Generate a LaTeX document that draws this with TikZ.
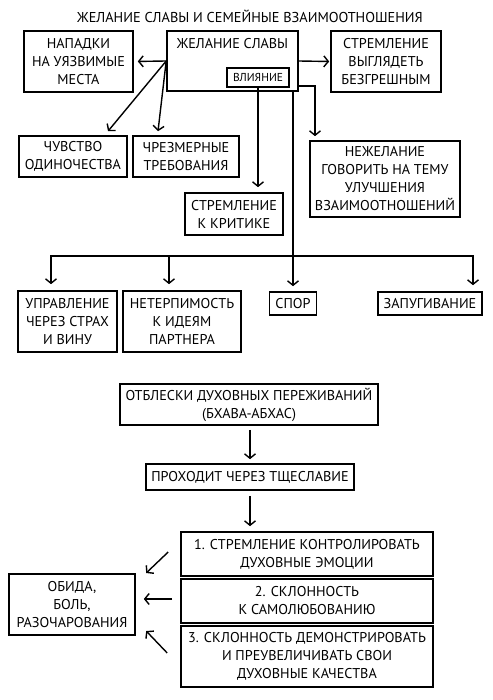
\documentclass[tikz,border=0pt]{standalone}
\usepackage{fontspec}
\setmainfont{PT Sans}
\usetikzlibrary{arrows.meta,calc}

\tikzset{
  box/.style={draw=black, line width=1.6pt, align=center, inner sep=0pt,
              font=\fontsize{14.2}{18}\selectfont},
  arr/.style={-{Straight Barb[length=4.5pt,width=11pt]}, line width=1.4pt}
}

\begin{document}
\begin{tikzpicture}[x=1pt,y=-1pt]
  \useasboundingbox (0,0) rectangle (492,700);

  %% title
  \node[font=\fontsize{14.3}{16}\selectfont] (title) at (250,16) {ЖЕЛАНИЕ СЛАВЫ И СЕМЕЙНЫЕ ВЗАИМООТНОШЕНИЯ};

  %% top row
  \node[box, minimum width=131, minimum height=60,
        label={[font=\fontsize{14.2}{16}\selectfont, anchor=north, yshift=-5pt]north:ЖЕЛАНИЕ СЛАВЫ}]
        (glory) at (232.5,61) {};
  \node[box, minimum width=62, minimum height=19, font=\fontsize{11.5}{12}\selectfont]
        (influence) at (258,77.5) {ВЛИЯНИЕ};
  \node[box, minimum width=109, minimum height=61] (attacks) at (78.5,61.5)
        {НАПАДКИ\\НА УЯЗВИМЫЕ\\МЕСТА};
  \node[box, minimum width=110, minimum height=61] (flawless) at (386,61.5)
        {СТРЕМЛЕНИЕ\\ВЫГЛЯДЕТЬ\\БЕЗГРЕШНЫМ};

  %% second row
  \node[box, minimum width=108, minimum height=41] (lonely) at (73,156.5)
        {ЧУВСТВО\\ОДИНОЧЕСТВА};
  \node[box, minimum width=106, minimum height=41] (demands) at (186,156.5)
        {ЧРЕЗМЕРНЫЕ\\ТРЕБОВАНИЯ};
  \node[box, minimum width=98, minimum height=42] (critic) at (234,214)
        {СТРЕМЛЕНИЕ\\К КРИТИКЕ};
  \node[box, minimum width=150, minimum height=76] (silence) at (385,179)
        {НЕЖЕЛАНИЕ\\ГОВОРИТЬ НА ТЕМУ\\УЛУЧШЕНИЯ\\ВЗАИМООТНОШЕНИЙ};

  %% third row
  \node[box, minimum width=99, minimum height=61] (fear) at (67.5,321.5)
        {УПРАВЛЕНИЕ\\ЧЕРЕЗ СТРАХ\\И ВИНУ};
  \node[box, minimum width=118, minimum height=61] (intol) at (182,321.5)
        {НЕТЕРПИМОСТЬ\\К ИДЕЯМ\\ПАРТНЕРА};
  \node[box, minimum width=47, minimum height=23] (dispute) at (293,303.5) {СПОР};
  \node[box, minimum width=104, minimum height=23] (threat) at (430,303.5) {ЗАПУГИВАНИЕ};

  %% arrows of the top part
  \draw[arr, shorten >=4pt] (glory.west) -- (attacks.east);
  \draw[arr, shorten >=1pt] (glory.east) -- (flawless.west);
  \draw[arr] (glory.west) -- ($(lonely.north)+(35,-4)$);
  \draw[arr] (glory.west) -- ($(demands.north)+(-28,-4)$);
  \draw[arr, shorten >=5pt] (influence.south) -- (influence.south |- critic.north);
  \draw[arr, shorten >=4pt] ($(glory.east)+(0,25)$) -| ($(silence.north)+(-70,0)$);

  % trunk and branches
  \coordinate (bus) at (dispute.north |- 0,256);
  \draw[arr, shorten >=5pt] (dispute.north |- glory.south) -- (dispute.north);
  \draw[arr, shorten >=6pt] (bus) -| ($(fear.north)+(-16.5,0)$);
  \draw[arr, shorten >=6pt] (bus) -| ($(intol.north)+(-13,0)$);
  \draw[arr, shorten >=6pt] (bus) -| ($(threat.north)+(43,0)$);

  %% lower part
  \node[box, minimum width=258, minimum height=41] (glimpse) at (249,404.5)
        {ОТБЛЕСКИ ДУХОВНЫХ ПЕРЕЖИВАНИЙ\\(БХАВА-АБХАС)};
  \node[box, minimum width=208, minimum height=26] (vanity) at (250,477)
        {ПРОХОДИТ ЧЕРЕЗ ТЩЕСЛАВИЕ};
  \node[box, minimum width=252, minimum height=44] (first) at (307,554)
        {1. СТРЕМЛЕНИЕ КОНТРОЛИРОВАТЬ\\ДУХОВНЫЕ ЭМОЦИИ};
  \node[box, minimum width=252, minimum height=44] (second) at (307,601)
        {2. СКЛОННОСТЬ\\К САМОЛЮБОВАНИЮ};
  \node[box, minimum width=252, minimum height=61] (third) at (307,656.5)
        {3. СКЛОННОСТЬ ДЕМОНСТРИРОВАТЬ\\И ПРЕУВЕЛИЧИВАТЬ СВОИ\\ДУХОВНЫЕ КАЧЕСТВА};
  \node[box, minimum width=126, minimum height=61] (hurt) at (72,604.5)
        {ОБИДА,\\БОЛЬ,\\РАЗОЧАРОВАНИЯ};

  \draw[arr, shorten <=4pt, shorten >=4pt] (glimpse.south -| vanity.north) -- (vanity.north);
  \draw[arr, shorten <=5pt, shorten >=5pt] (vanity.south) -- (vanity.south |- first.north);
  \draw[arr] ($(first.west)+(-12,-2)$) -- ++(-22,21);
  \draw[arr] ($(second.west)+(-8,-2)$) -- ($(hurt.east |- second.west)+(8,-2)$);
  \draw[arr] ($(third.west)+(-13,-3.5)$) -- ++(-21,-22);
\end{tikzpicture}
\end{document}
